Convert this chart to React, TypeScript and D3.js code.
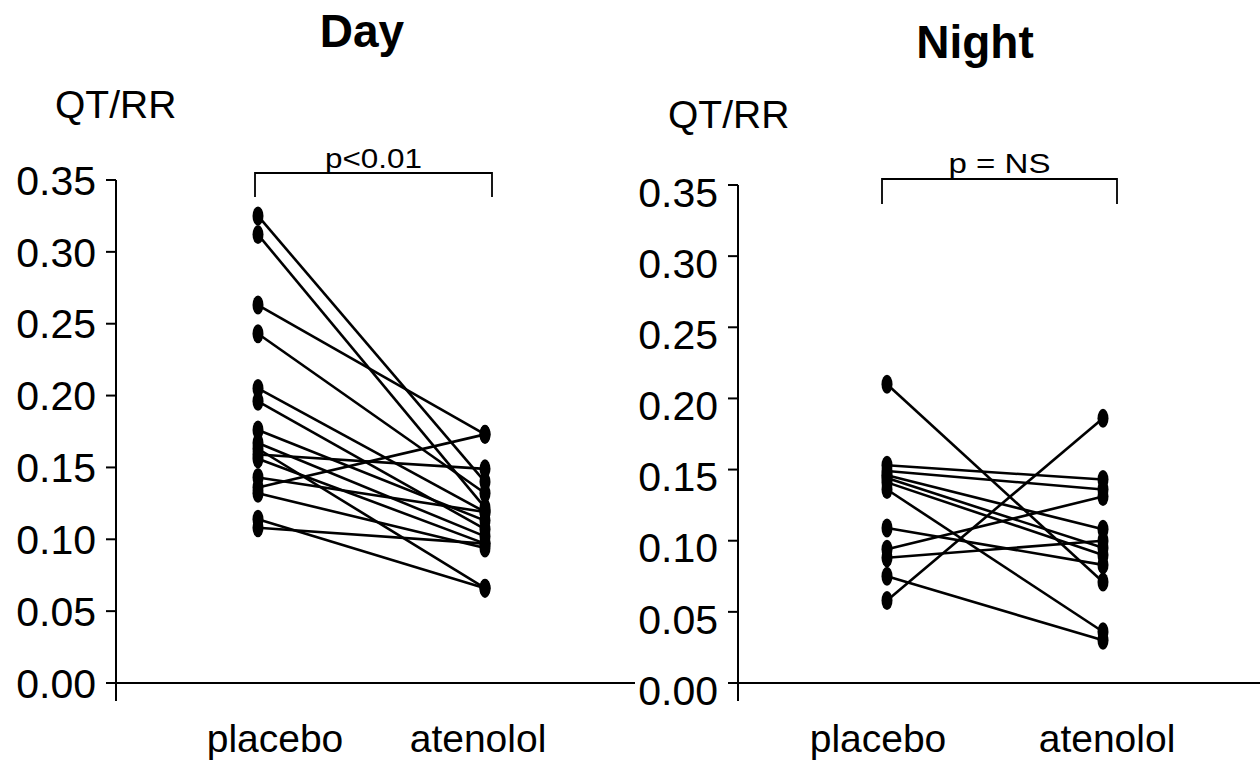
import React from "react";
import * as d3 from "d3";

const width = 1260;
const height = 763;

const groups = ["placebo", "atenolol"];
const tickValues = [0, 0.05, 0.1, 0.15, 0.2, 0.25, 0.3, 0.35];

// QT/RR slope per subject, placebo -> atenolol
const dayPlacebo = [0.325, 0.312, 0.263, 0.243, 0.205, 0.196, 0.176, 0.167, 0.163, 0.159, 0.156, 0.143, 0.136, 0.132, 0.114, 0.108];
const dayAtenolol = [0.14, 0.122, 0.173, 0.132, 0.119, 0.107, 0.113, 0.102, 0.066, 0.149, 0.097, 0.119, 0.173, 0.094, 0.066, 0.097];

const nightPlacebo = [0.21, 0.153, 0.149, 0.146, 0.144, 0.141, 0.136, 0.109, 0.094, 0.088, 0.075, 0.058];
const nightAtenolol = [0.071, 0.143, 0.136, 0.108, 0.095, 0.09, 0.036, 0.083, 0.131, 0.1, 0.03, 0.186];

const font = "'Liberation Sans', Arial, Helvetica, sans-serif";
const fmt = d3.format(".2f");

type PanelProps = {
  title: string;
  titleX: number;
  titleY: number;
  pText: string;
  placebo: number[];
  atenolol: number[];
  axisX: number;
  yTop: number;
  yBottom: number;
  xAxisEnd: number;
  dotX: [number, number];
  bracket: { x0: number; x1: number; top: number; bottom: number; textY: number };
  labelX: [number, number];
  qtX: number;
  qtY: number;
  pWidth: number;
  labelDy: number;
};

function Panel(p: PanelProps) {
  const y = d3.scaleLinear().domain([0, 0.35]).range([p.yBottom, p.yTop]);
  const x = d3.scalePoint<string>().domain(groups).range(p.dotX);
  const line = d3
    .line<[string, number]>()
    .x((d) => x(d[0]) as number)
    .y((d) => y(d[1]));
  const pairs = p.placebo.map((v, i) => [
    ["placebo", v],
    ["atenolol", p.atenolol[i]],
  ] as [string, number][]);
  const b = p.bracket;

  return (
    <g>
      <text x={p.titleX} y={p.titleY} textAnchor="middle" fontWeight="bold" fontSize={46} fontFamily={font}>
        {p.title}
      </text>
      <text x={p.qtX} y={p.qtY} fontSize={39} fontFamily={font}>
        QT/RR
      </text>

      {/* axes */}
      <line x1={p.axisX} x2={p.axisX} y1={y(0.35)} y2={y(0) + 18} stroke="#000" strokeWidth={2} />
      <line x1={p.axisX} x2={p.xAxisEnd} y1={y(0)} y2={y(0)} stroke="#000" strokeWidth={2} />
      {tickValues.map((t) => (
        <g key={t}>
          <line x1={p.axisX - 10} x2={p.axisX} y1={y(t)} y2={y(t)} stroke="#000" strokeWidth={2} />
          <text x={p.axisX - 20} y={y(t) + p.labelDy} dy="0.36em" textAnchor="end" fontSize={41} fontFamily={font}>
            {fmt(t)}
          </text>
        </g>
      ))}

      {/* significance bracket */}
      <path
        d={`M${b.x0},${b.bottom}V${b.top}H${b.x1}V${b.bottom}`}
        fill="none"
        stroke="#000"
        strokeWidth={1.8}
      />
      <text
        x={(b.x0 + b.x1) / 2}
        y={b.textY}
        textAnchor="middle"
        fontSize={28}
        fontFamily={font}
        textLength={p.pWidth}
        lengthAdjust="spacingAndGlyphs"
      >
        {p.pText}
      </text>

      {/* subject lines */}
      {pairs.map((d, i) => (
        <path key={i} d={line(d) || ""} fill="none" stroke="#000" strokeWidth={2.6} />
      ))}
      {pairs.map((d, i) =>
        d.map((pt, j) => (
          <ellipse key={`${i}-${j}`} cx={x(pt[0]) as number} cy={y(pt[1])} rx={5.5} ry={9.5} fill="#000" />
        ))
      )}

      {groups.map((g, i) => (
        <text key={g} x={p.labelX[i]} y={752} textAnchor="middle" fontSize={39} fontFamily={font}>
          {g}
        </text>
      ))}
    </g>
  );
}

export default function App() {
  return (
    <svg
      width={width}
      height={height}
      style={{ position: "absolute", left: 0, top: 0, background: "#fff" }}
    >
      <rect width={width} height={height} fill="#fff" />
      <Panel
        title="Day"
        titleX={362}
        titleY={47}
        pText="p<0.01"
        placebo={dayPlacebo}
        atenolol={dayAtenolol}
        axisX={116}
        yTop={180}
        yBottom={683}
        xAxisEnd={635}
        dotX={[258, 485]}
        bracket={{ x0: 255, x1: 492, top: 173, bottom: 197, textY: 168 }}
        labelX={[275, 478]}
        qtX={55}
        qtY={118}
        pWidth={97}
        labelDy={0}
      />
      <Panel
        title="Night"
        titleX={975}
        titleY={58}
        pText="p = NS"
        placebo={nightPlacebo}
        atenolol={nightAtenolol}
        axisX={738}
        yTop={185}
        yBottom={683}
        xAxisEnd={1260}
        dotX={[887, 1103]}
        bracket={{ x0: 882, x1: 1117, top: 179, bottom: 204, textY: 173 }}
        labelX={[878, 1107]}
        qtX={668}
        qtY={128}
        pWidth={102}
        labelDy={7}
      />
    </svg>
  );
}
